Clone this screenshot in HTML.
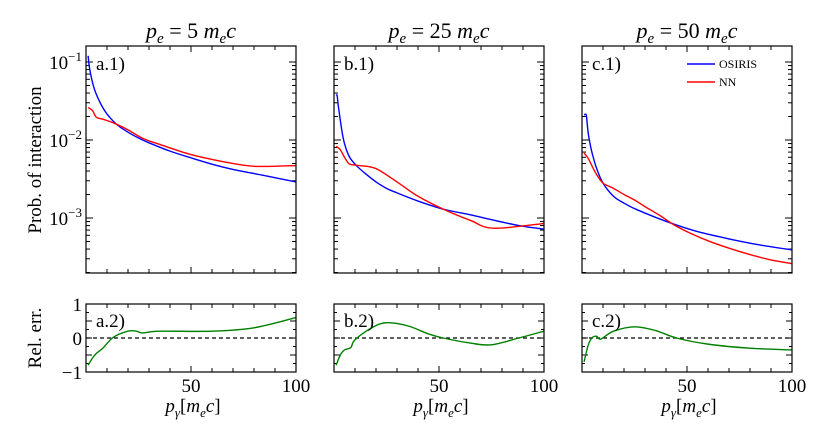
<!DOCTYPE html>
<html><head><meta charset="utf-8"><style>
body{margin:0;background:#fff;}
svg text{font-family:"Liberation Serif",serif;fill:#000;}
</style></head><body>
<svg id="fig" width="830" height="443" viewBox="0 0 830 443" xmlns="http://www.w3.org/2000/svg"></svg>
<script>
// ---- data ----
const titles = ["5", "25", "50"];
const topLabels = ["a.1)", "b.1)", "c.1)"];
const botLabels = ["a.2)", "b.2)", "c.2)"];
const osirisX = [[1,1.5,2,3,4,5,6.5,8,10,13,16,20,25,30,40,50,60,70,85,100],[1,1.5,2,3,4,5,6.5,8,11,15,20,25,30,40,52,65,75,88,100],[1,2,2.5,3,4,5,7,10,15,20,25,35,44,55,70,85,100]];
const osirisY = [[0.12,0.09,0.075,0.056,0.045,0.038,0.031,0.026,0.0215,0.0174,0.0148,0.0126,0.0106,0.0092,0.0072,0.0059,0.0049,0.0042,0.0035,0.0029],[0.038,0.037,0.028,0.018,0.012,0.009,0.0068,0.0057,0.0046,0.0037,0.0029,0.0024,0.0021,0.00165,0.0013,0.0011,0.00095,0.0008,0.00072],[0.021,0.021,0.016,0.012,0.0085,0.0065,0.0043,0.0028,0.0019,0.00155,0.00132,0.00102,0.00083,0.00067,0.00054,0.00045,0.00039]];
const nnX = [[1,3,5,8,13,20,27,35,50,65,80,100],[1,3,5,7,9,12,20,30,40,52,65,76,100],[1,3,5,7,10,15,20,25,30,37,44,52,60,70,80,90,100]];
const nnY = [[0.026,0.024,0.0195,0.0185,0.0166,0.0135,0.0105,0.0088,0.0065,0.0053,0.0046,0.0047],[0.0083,0.0075,0.006,0.005,0.0048,0.0047,0.0043,0.0029,0.0019,0.0013,0.00093,0.00074,0.00085],[0.0068,0.0058,0.0045,0.0036,0.0028,0.0024,0.002,0.0017,0.0014,0.00108,0.00081,0.00063,0.00051,0.00041,0.00034,0.00029,0.00026]];
const errX = [[1,3,5,8,13,20,24,27,35,60,80,100],[1,3,5,8,10,18,25,35,45,52,65,75,88,100],[1,3,5,7,9,15,25,35,45,60,80,100]];
const errY = [[-0.8,-0.6,-0.45,-0.3,0.02,0.2,0.2,0.15,0.2,0.2,0.3,0.6],[-0.8,-0.5,-0.35,-0.28,-0.05,0.3,0.45,0.36,0.12,0.0,-0.15,-0.2,0.0,0.2],[-0.7,-0.2,0.02,0.05,-0.03,0.2,0.33,0.22,0.0,-0.18,-0.3,-0.35]];
const yTicksTop = [-1,-2,-3];
const yTicksBot = [1,0,-1];
const xTicks = [50,100];

// ---- layout ----
const NS="http://www.w3.org/2000/svg";
const svg=document.getElementById('fig');
const panelX=[86,334,582], PW=210;
const TT=46, TB=273, BT=304, BB=372;
const LMAX=-0.795, LMIN=-3.705;
function el(tag,attrs,parent){const e=document.createElementNS(NS,tag);for(const k in attrs)e.setAttribute(k,attrs[k]);(parent||svg).appendChild(e);return e;}
function xs(p,v){return panelX[p]+v/100*PW;}
function yTop(v){return TT+(LMAX-Math.log10(v))/(LMAX-LMIN)*(TB-TT);}
function yBot(v){return BT+(1-v)/2*(BB-BT);}
function pathOf(p,X,Y,fy){
  const P=X.map((x,i)=>[xs(p,x),fy(Y[i])]);
  let d='M'+P[0][0].toFixed(2)+','+P[0][1].toFixed(2);
  for(let i=0;i<P.length-1;i++){
    const p0=P[Math.max(i-1,0)],p1=P[i],p2=P[i+1],p3=P[Math.min(i+2,P.length-1)];
    const c1=[p1[0]+(p2[0]-p0[0])/6,p1[1]+(p2[1]-p0[1])/6];
    const c2=[p2[0]-(p3[0]-p1[0])/6,p2[1]-(p3[1]-p1[1])/6];
    d+='C'+c1[0].toFixed(2)+','+c1[1].toFixed(2)+' '+c2[0].toFixed(2)+','+c2[1].toFixed(2)+' '+p2[0].toFixed(2)+','+p2[1].toFixed(2);
  }
  return d;}

const minor=[2,3,4,5,6,7,8,9];
for(let p=0;p<3;p++){
  const x0=panelX[p], x1=x0+PW;
  const g=el('g',{});
  
  
  const t=el('text',{x:x0+PW/2,y:38,'text-anchor':'middle','font-size':'22'},g);
  
  
  t.innerHTML='<tspan font-style="italic">p</tspan><tspan font-style="italic" font-size="15" dy="5">e</tspan><tspan dy="-5"> = '+titles[p]+' </tspan><tspan font-style="italic">m</tspan><tspan font-style="italic" font-size="15" dy="5">e</tspan><tspan font-style="italic" dy="-5">c</tspan>';
  const tk=el('g',{stroke:'#000','stroke-width':'1'},g);
  
  
  for(let v=10;v<100;v+=10){
    const X=xs(p,v), L=(v%50==0)?6:4;
    el('line',{x1:X,y1:TT,x2:X,y2:TT+L},tk);el('line',{x1:X,y1:TB,x2:X,y2:TB-L},tk);
    el('line',{x1:X,y1:BT,x2:X,y2:BT+L},tk);el('line',{x1:X,y1:BB,x2:X,y2:BB-L},tk);
  }
  for(let d=-4;d<=-1;d++){
    const Y=yTop(Math.pow(10,d));
    if(Y>=TT&&Y<=TB){el('line',{x1:x0,y1:Y,x2:x0+7,y2:Y},tk);el('line',{x1:x1,y1:Y,x2:x1-7,y2:Y},tk);}
    for(const m of minor){const Ym=yTop(m*Math.pow(10,d));if(Ym>=TT&&Ym<=TB){el('line',{x1:x0,y1:Ym,x2:x0+4,y2:Ym},tk);el('line',{x1:x1,y1:Ym,x2:x1-4,y2:Ym},tk);}}
  }
  for(let v=-1;v<=1.001;v+=0.25){const Y=yBot(v),L=(Math.abs(v*2-Math.round(v*2))<0.01)?6:3;el('line',{x1:x0,y1:Y,x2:x0+L,y2:Y},tk);el('line',{x1:x1,y1:Y,x2:x1-L,y2:Y},tk);}
  const z=el('line',{x1:x0,y1:yBot(0),x2:x1,y2:yBot(0),stroke:'#000','stroke-width':'1.2','stroke-dasharray':'4,3'},g);
  
  
  const cp=el('clipPath',{id:'ct'+p},g);el('rect',{x:x0,y:TT,width:PW,height:TB-TT},cp);
  const b=el('path',{d:pathOf(p,osirisX[p],osirisY[p],yTop),fill:'none',stroke:'#0000ff','stroke-width':'1.4','clip-path':'url(#ct'+p+')'},g);
  
  
  const r=el('path',{d:pathOf(p,nnX[p],nnY[p],yTop),fill:'none',stroke:'#ff0000','stroke-width':'1.4','clip-path':'url(#ct'+p+')'},g);
  
  
  const gr=el('path',{d:pathOf(p,errX[p],errY[p],yBot),fill:'none',stroke:'#008000','stroke-width':'1.4'},g);
  
  
  const f1=el('rect',{x:x0,y:TT,width:PW,height:TB-TT,fill:'none',stroke:'#000','stroke-width':'1.2'},g);
  
  
  const f2=el('rect',{x:x0,y:BT,width:PW,height:BB-BT,fill:'none',stroke:'#000','stroke-width':'1.2'},g);
  
  
  const l1=el('text',{x:x0+10,y:TT+24,'font-size':'19'},g);l1.textContent=topLabels[p];
  
  
  const l2=el('text',{x:x0+10,y:BT+23,'font-size':'19'},g);l2.textContent=botLabels[p];
  
  
  for(const v of xTicks){const tl=el('text',{x:xs(p,v),y:BB+20,'text-anchor':'middle','font-size':'19'},g);tl.textContent=v;
    
    }
  const xl=el('text',{x:x0+PW/2+2,y:412,'text-anchor':'middle','font-size':'19'},g);
  
  
  xl.innerHTML='<tspan font-style="italic">p</tspan><tspan font-style="italic" font-size="13" dy="5">γ</tspan><tspan dy="-5">[</tspan><tspan font-style="italic">m</tspan><tspan font-style="italic" font-size="13" dy="5">e</tspan><tspan font-style="italic" dy="-5">c</tspan><tspan>]</tspan>';
}
for(const d of yTicksTop){const t=el('text',{x:82,y:yTop(Math.pow(10,d))+7,'text-anchor':'end','font-size':'19'});
  t.innerHTML='10<tspan font-size="13" dy="-8">−'+(-d)+'</tspan>';
  
  }
for(const v of yTicksBot){const t=el('text',{x:82,y:yBot(v)+7,'text-anchor':'end','font-size':'19'});t.textContent=(v<0?'−':'')+Math.abs(v);
  
  }
const yt=el('text',{transform:'translate(41,160) rotate(-90)','text-anchor':'middle','font-size':'19'});yt.textContent='Prob. of interaction';


const yt2=el('text',{transform:'translate(41,338) rotate(-90)','text-anchor':'middle','font-size':'19'});yt2.textContent='Rel. err.';


const lg=el('g',{});


el('line',{x1:687,y1:64,x2:715,y2:64,stroke:'#0000ff','stroke-width':'1.4'},lg);
const lt1=el('text',{x:719,y:68,'font-size':'12'},lg);lt1.textContent='OSIRIS';


el('line',{x1:687,y1:82,x2:715,y2:82,stroke:'#ff0000','stroke-width':'1.4'},lg);
const lt2=el('text',{x:719,y:86,'font-size':'12'},lg);lt2.textContent='NN';


</script>
</body></html>
